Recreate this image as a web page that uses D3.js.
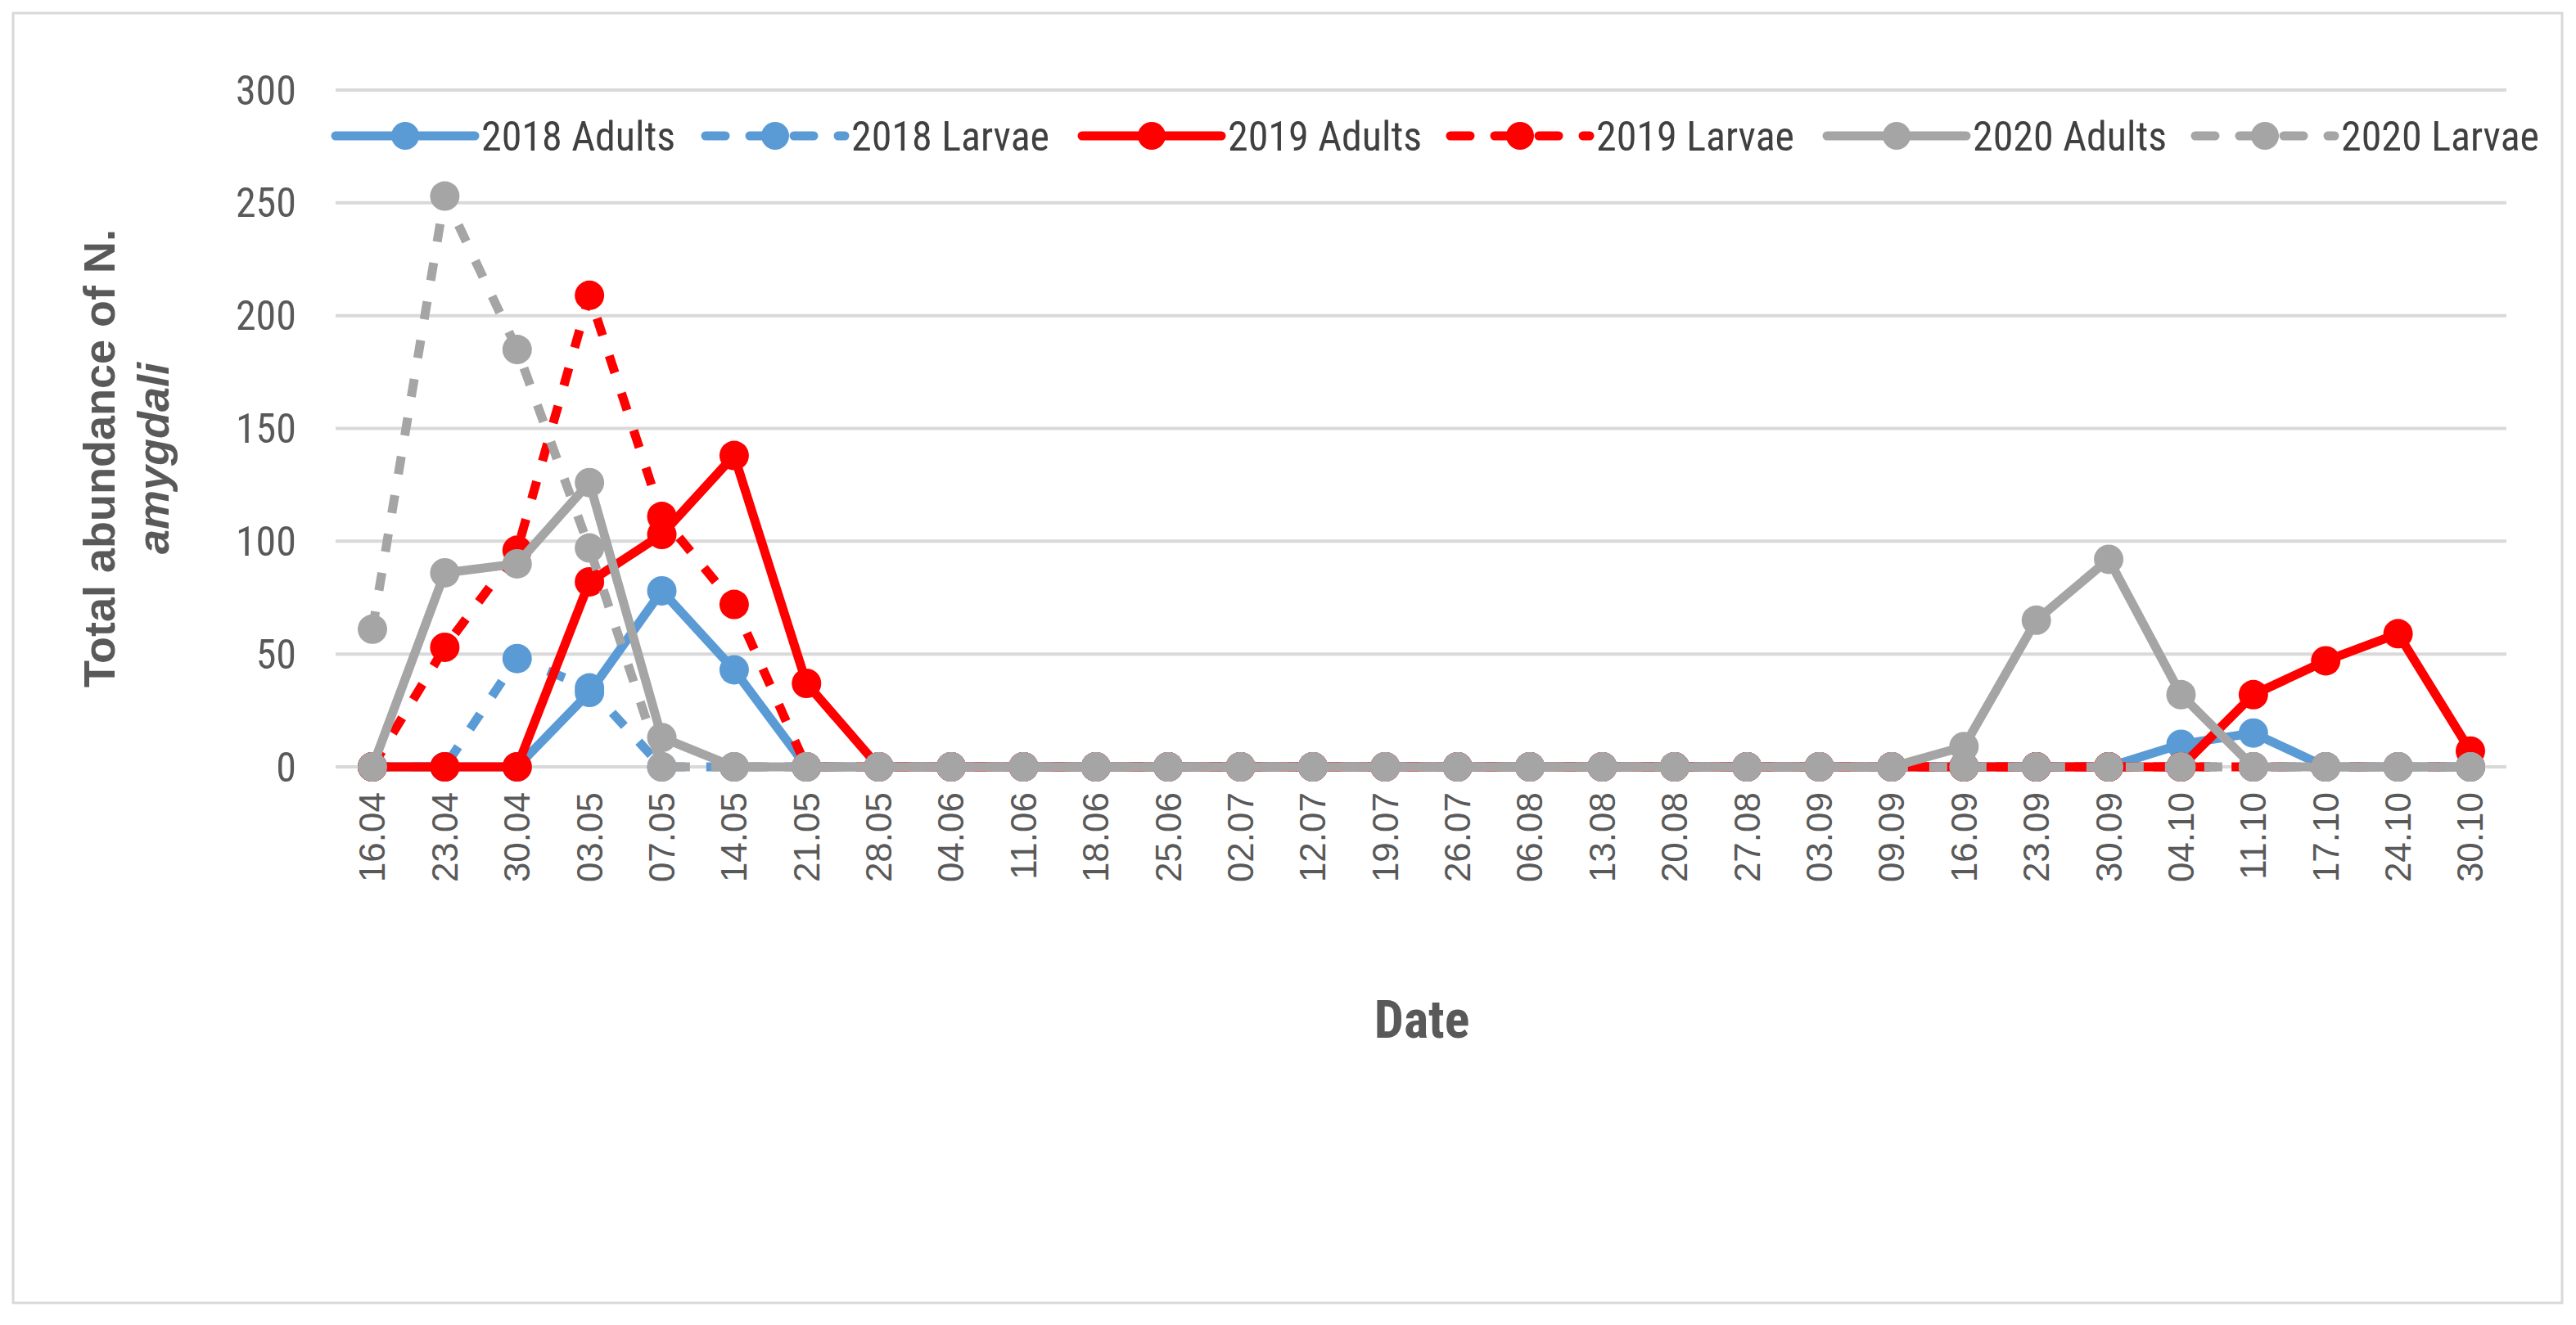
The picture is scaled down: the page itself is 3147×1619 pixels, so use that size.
<!DOCTYPE html>
<html><head><meta charset="utf-8">
<script src="https://cdn.jsdelivr.net/npm/d3@7"></script>
<style>body{margin:0;background:#fff}</style>
</head><body>
<svg id="chart" width="3147" height="1619"></svg>
<script>
// data
const dates = ["16.04","23.04","30.04","03.05","07.05","14.05","21.05","28.05","04.06","11.06","18.06","25.06",
  "02.07","12.07","19.07","26.07","06.08","13.08","20.08","27.08","03.09","09.09","16.09","23.09","30.09",
  "04.10","11.10","17.10","24.10","30.10"];
const adults2018 = [0,0,0,33,78,43,0,0,0,0,0,0,0,0,0,0,0,0,0,0,0,0,0,0,0,10,15,0,0,0];
const larvae2018 = [0,0,48,35,0,0,0,0,0,0,0,0,0,0,0,0,0,0,0,0,0,0,0,0,0,0,0,0,0,0];
const adults2019 = [0,0,0,82,103,138,37,0,0,0,0,0,0,0,0,0,0,0,0,0,0,0,0,0,0,0,32,47,59,7];
const larvae2019 = [0,53,96,209,111,72,0,0,0,0,0,0,0,0,0,0,0,0,0,0,0,0,0,0,0,0,0,0,0,0];
const adults2020 = [0,86,90,126,13,0,0,0,0,0,0,0,0,0,0,0,0,0,0,0,0,0,9,65,92,32,0,0,0,0];
const larvae2020 = [61,253,185,97,0,0,0,0,0,0,0,0,0,0,0,0,0,0,0,0,0,0,0,0,0,0,0,0,0,0];
const yTicks = [0,50,100,150,200,250,300];

const series = [
  {name:"2018 Adults", values:adults2018, color:"#5b9bd5", dash:null},
  {name:"2018 Larvae", values:larvae2018, color:"#5b9bd5", dash:"22,26"},
  {name:"2019 Adults", values:adults2019, color:"#ff0000", dash:null},
  {name:"2019 Larvae", values:larvae2019, color:"#ff0000", dash:"22,26"},
  {name:"2020 Adults", values:adults2020, color:"#a5a5a5", dash:null},
  {name:"2020 Larvae", values:larvae2020, color:"#a5a5a5", dash:"22,26"}
];

const svg = d3.select("#chart");
const narrow = "'Liberation Sans Narrow','Roboto Condensed','DejaVu Sans Condensed',sans-serif";

// outer frame
svg.append("rect").attr("x",16).attr("y",16).attr("width",3114).attr("height",1576)
  .attr("fill","none").attr("stroke","#d9d9d9").attr("stroke-width",3);

const plotLeft = 410, plotRight = 3062, plotTop = 110, plotBottom = 937;
const x = d3.scalePoint().domain(dates).range([455, 3018]);
const y = d3.scaleLinear().domain([0,300]).range([plotBottom, plotTop]);

// gridlines
svg.append("g").selectAll("line").data(yTicks).join("line")
  .attr("x1",plotLeft).attr("x2",plotRight).attr("y1",d=>y(d)).attr("y2",d=>y(d))
  .attr("stroke","#d9d9d9").attr("stroke-width",4);

// y tick labels
svg.append("g").selectAll("text").data(yTicks).join("text")
  .attr("x",362).attr("y",d=>y(d)).attr("dy","0.35em").attr("text-anchor","end")
  .attr("font-family",narrow).attr("font-size",50).attr("fill","#595959").text(d=>d);

// x tick labels
svg.append("g").selectAll("text").data(dates).join("text")
  .attr("transform",d=>`translate(${x(d)},968) rotate(-90)`)
  .attr("dy","0.35em").attr("text-anchor","end")
  .attr("font-family","'Liberation Sans',Arial,sans-serif").attr("font-size",44)
  .attr("fill","#595959").text(d=>d);

// axis titles
svg.append("text").attr("x",1737).attr("y",1268).attr("text-anchor","middle")
  .attr("font-family",narrow).attr("font-weight","bold").attr("font-size",64)
  .attr("fill","#595959").text("Date");
const yt = svg.append("text").attr("transform","translate(150,560) rotate(-90)")
  .attr("text-anchor","middle").attr("font-family","'Liberation Sans',Arial,sans-serif")
  .attr("font-weight","bold").attr("font-size",54).attr("fill","#595959");
yt.append("tspan").attr("x",0).attr("dy",-10).text("Total abundance of N.");
yt.append("tspan").attr("x",0).attr("dy",66).attr("font-style","italic").text("amygdali");

// lines and markers
const line = d3.line().x((d,i)=>x(dates[i])).y(d=>y(d));
series.forEach(s => {
  const g = svg.append("g");
  g.append("path").datum(s.values).attr("d",line).attr("fill","none")
    .attr("stroke",s.color).attr("stroke-width",11).attr("stroke-linejoin","round")
    .attr("stroke-dasharray",s.dash);
  g.selectAll("circle").data(s.values).join("circle")
    .attr("cx",(d,i)=>x(dates[i])).attr("cy",d=>y(d)).attr("r",18).attr("fill",s.color);
});

// legend
const legX = [410, 862, 1322, 1772, 2232, 2682];
const leg = svg.append("g").selectAll("g").data(series).join("g")
  .attr("transform",(d,i)=>`translate(${legX[i]},166)`);
leg.append("line").attr("x1",0).attr("x2",170).attr("stroke",d=>d.color)
  .attr("stroke-width",11).attr("stroke-linecap","round").attr("stroke-dasharray",d=>d.dash?"24,30":null);
leg.append("circle").attr("cx",85).attr("r",17).attr("fill",d=>d.color);
leg.append("text").attr("x",178).attr("dy","0.35em").attr("font-family",narrow)
  .attr("font-size",50).attr("fill","#404040").text(d=>d.name);
</script>
</body></html>
